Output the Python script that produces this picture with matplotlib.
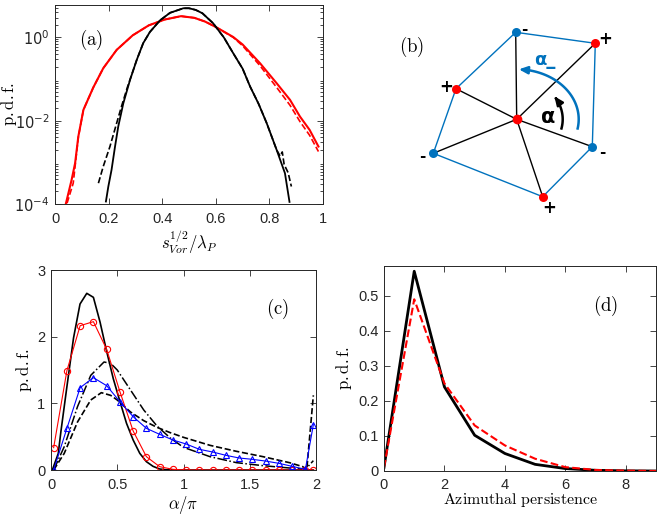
import numpy as np
import matplotlib
matplotlib.use("Agg")
import matplotlib.pyplot as plt

plt.rcParams['mathtext.fontset'] = 'cm'
plt.rcParams['font.family'] = ['Liberation Sans', 'DejaVu Sans']

AX_COL = '#262626'

# ---------------- panel (a) data: x and log10(p.d.f.)
a_red_x = [0.041, 0.062, 0.075, 0.087, 0.106, 0.143, 0.18, 0.23, 0.29, 0.35, 0.41, 0.47,
           0.52, 0.56, 0.60, 0.665, 0.70, 0.765, 0.827, 0.877, 0.914, 0.95, 0.983]
a_red_logy = [-3.98, -3.42, -3.02, -2.38, -1.74, -1.20, -0.74, -0.30, 0.05, 0.29, 0.43, 0.51,
              0.47, 0.38, 0.25, 0.01, -0.17, -0.62, -1.10, -1.50, -1.90, -2.22, -2.62]
a_red2_x = [0.045, 0.068, 0.087, 0.106, 0.143, 0.18, 0.23, 0.29, 0.35, 0.41, 0.47,
            0.52, 0.56, 0.60, 0.665, 0.70, 0.765, 0.827, 0.877, 0.914, 0.95, 0.983]
a_red2_logy = [-3.98, -3.50, -2.40, -1.74, -1.20, -0.74, -0.30, 0.05, 0.29, 0.43, 0.51,
               0.47, 0.38, 0.25, 0.00, -0.20, -0.68, -1.20, -1.63, -2.02, -2.35, -2.74]
a_blk_x = [0.190, 0.199, 0.211, 0.224, 0.236, 0.255, 0.28, 0.305, 0.329, 0.354, 0.392, 0.429,
           0.479, 0.50, 0.525, 0.55, 0.59, 0.63, 0.665, 0.70, 0.728, 0.76, 0.79, 0.827, 0.858,
           0.875]
a_blk_logy = [-3.94, -3.58, -3.18, -2.62, -2.14, -1.58, -1.02, -0.54, -0.14, 0.13, 0.41, 0.59,
              0.70, 0.70, 0.66, 0.58, 0.34, 0.0, -0.38, -0.75, -1.18, -1.60, -2.06, -2.70,
              -3.26, -3.95]
a_blkd_x = [0.162, 0.18, 0.205, 0.23, 0.248, 0.27, 0.305, 0.329, 0.354, 0.392, 0.429, 0.479,
            0.50, 0.525, 0.55, 0.59, 0.63, 0.665, 0.70, 0.728, 0.76, 0.79, 0.827, 0.84, 0.848,
            0.855, 0.87, 0.882]
a_blkd_logy = [-3.50, -3.10, -2.62, -2.06, -1.66, -1.20, -0.54, -0.14, 0.13, 0.41, 0.59, 0.70,
               0.70, 0.66, 0.58, 0.34, 0.0, -0.38, -0.75, -1.18, -1.60, -2.06, -2.70, -2.85,
               -2.75, -3.05, -3.25, -3.58]

# ---------------- panel (c) data
c_mark_x = [0.02, 0.12, 0.22, 0.32, 0.42, 0.52, 0.62, 0.72, 0.82, 0.92, 1.02, 1.12, 1.22,
            1.32, 1.42, 1.52, 1.62, 1.72, 1.82, 1.92, 1.98]
c_red = [0.335, 1.49, 2.165, 2.225, 1.81, 1.175, 0.585, 0.20, 0.05, 0.01, 0, 0, 0, 0, 0, 0,
         0, 0, 0, 0, 0]
c_blue = [0.0, 0.625, 1.235, 1.385, 1.265, 1.025, 0.80, 0.625, 0.535, 0.45, 0.39, 0.31, 0.27,
          0.22, 0.18, 0.16, 0.134, 0.10, 0.055, 0.01, 0.68]
c_solid_x = [0.01, 0.055, 0.075, 0.118, 0.17, 0.219, 0.27, 0.32, 0.37, 0.42, 0.47, 0.52, 0.57,
             0.62, 0.67, 0.72, 0.77, 0.82, 0.87, 1.0, 1.98]
c_solid_y = [0.0, 0.25, 0.58, 1.22, 1.98, 2.49, 2.65, 2.59, 2.22, 1.78, 1.37, 1.03, 0.70,
             0.45, 0.25, 0.125, 0.055, 0.015, 0.003, 0.0, 0.0]
c_dd_x = [0.02, 0.10, 0.20, 0.30, 0.40, 0.45, 0.50, 0.60, 0.70, 0.80, 0.90, 1.0, 1.2, 1.4,
          1.6, 1.8, 1.92, 1.98]
c_dd_y = [0.0, 0.35, 0.95, 1.42, 1.62, 1.60, 1.50, 1.20, 0.90, 0.66, 0.48, 0.34, 0.20, 0.11,
          0.065, 0.03, 0.01, 0.14]
c_dash_x = [0.02, 0.10, 0.20, 0.30, 0.38, 0.45, 0.50, 0.60, 0.70, 0.80, 0.90, 1.0, 1.2, 1.4,
            1.6, 1.8, 1.9, 1.93, 1.98]
c_dash_y = [0.0, 0.25, 0.72, 1.05, 1.16, 1.12, 1.05, 0.87, 0.74, 0.64, 0.56, 0.49, 0.37, 0.28,
            0.20, 0.11, 0.05, 0.0, 1.12]

# ---------------- panel (d) data
d_x = [0, 1, 2, 3, 4, 5, 6, 7, 8, 9]
d_black = [0.01, 0.57, 0.24, 0.102, 0.05, 0.019, 0.007, 0.002, 0.0005, 0.0]
d_red = [0.01, 0.49, 0.25, 0.13, 0.073, 0.035, 0.011, 0.003, 0.001, 0.0]

# ---------------- panel (b) diagram (figure pixel coordinates, y down)
b_center = (516.7, 119.3)
b_nodes_x = [515.7, 595.3, 592.3, 542.7, 433.3, 456.0]
b_nodes_y = [32.3, 43.3, 146.7, 196.7, 153.3, 88.7]
b_nodes_sign = ['-', '+', '-', '+', '-', '+']
b_sign_dx = [9, 10, 10, 6, -11, -10]
b_sign_dy = [-3, -4, 6, 11, 3, -2]

W, H = 664, 516
fig = plt.figure(figsize=(W / 100, H / 100), dpi=100)


def style(ax, xpad=6):
    ax.tick_params(which='both', direction='in', top=True, right=True,
                   colors=AX_COL, labelsize=10.5, width=0.6)
    ax.tick_params(which='major', length=4)
    ax.tick_params(which='minor', length=2)
    ax.tick_params(axis='x', which='major', pad=xpad)
    ax.tick_params(axis='y', which='major', pad=4)
    for s in ax.spines.values():
        s.set_color(AX_COL)
        s.set_linewidth(0.7)


def rect(l, t, r, b):
    return [l / W, 1 - b / H, (r - l) / W, (b - t) / H]


# ---- (a)
axa = fig.add_axes(rect(55, 5, 323, 204))
axa.plot(a_red_x, 10 ** np.array(a_red_logy), color='red', lw=1.5)
axa.plot(a_red2_x, 10 ** np.array(a_red2_logy), color='red', lw=1.2, ls='--')
axa.plot(a_blkd_x, 10 ** np.array(a_blkd_logy), color='black', lw=1.2, ls='--')
axa.plot(a_blk_x, 10 ** np.array(a_blk_logy), color='black', lw=1.3)
axa.set_yscale('log')
axa.set_xlim(0, 1)
axa.set_ylim(1e-4, 6)
axa.set_xticks([0, 0.2, 0.4, 0.6, 0.8, 1])
axa.set_xticklabels(['0', '0.2', '0.4', '0.6', '0.8', '1'])
axa.set_yticks([1e-4, 1e-2, 1e0])
axa.set_yticklabels([r'$10^{-4}$', r'$10^{-2}$', r'$10^{0}$'])
for t in axa.get_yticklabels():
    t.set_math_fontfamily('dejavusans')
axa.yaxis.set_minor_locator(matplotlib.ticker.LogLocator(base=10, subs=np.arange(2, 10), numticks=20))
axa.yaxis.set_minor_formatter(matplotlib.ticker.NullFormatter())
style(axa)
axa.set_xlabel(r'$s_{Vor}^{1/2}/\lambda_P$', fontsize=12, labelpad=1)
axa.set_ylabel(r'$\mathrm{p.d.f.}$', fontsize=12)
axa.yaxis.set_label_coords((19 - 55) / 268, 0.5)
axa.text(0.09, 0.80, r'$\mathrm{(a)}$', transform=axa.transAxes, fontsize=13.5)

# ---- (c)
axc = fig.add_axes(rect(51, 270, 316, 470))
axc.plot(c_solid_x, c_solid_y, color='black', lw=1.2)
axc.plot(c_dd_x, c_dd_y, color='black', lw=1.1, ls='-.')
axc.plot(c_dash_x, c_dash_y, color='black', lw=1.2, ls='--')
axc.plot(c_mark_x, c_red, color='red', lw=0.8, marker='o', ms=4.5, mfc='none', mew=0.8)
axc.plot(c_mark_x, c_blue, color='blue', lw=0.8, marker='^', ms=5, mfc='none', mew=0.8)
axc.set_xlim(0, 2)
axc.set_ylim(0, 3)
axc.set_xticks([0, 0.5, 1, 1.5, 2])
axc.set_xticklabels(['0', '0.5', '1', '1.5', '2'])
axc.set_yticks([0, 1, 2, 3])
style(axc)
axc.set_xlabel(r'$\alpha/\pi$', fontsize=12)
axc.xaxis.set_label_coords(0.5, (470 - 494) / 200)
axc.set_ylabel(r'$\mathrm{p.d.f.}$', fontsize=12)
axc.yaxis.set_label_coords((34 - 51) / 265, 0.5)
axc.text(0.81, 0.78, r'$\mathrm{(c)}$', transform=axc.transAxes, fontsize=13.5)

# ---- (d)
axd = fig.add_axes(rect(384, 266, 656, 471))
axd.plot(d_x, d_black, color='black', lw=2.0)
axd.plot(d_x, d_red, color='red', lw=1.5, ls='--')
axd.set_xlim(0, 9)
axd.set_ylim(0, 0.585)
axd.set_xticks([0, 2, 4, 6, 8])
axd.set_yticks([0, 0.1, 0.2, 0.3, 0.4, 0.5])
axd.set_yticklabels(['0', '0.1', '0.2', '0.3', '0.4', '0.5'])
style(axd, xpad=5)
axd.set_xlabel(r'$\mathrm{Azimuthal\ persistence}$', fontsize=11.5)
axd.xaxis.set_label_coords(0.5, (471 - 491) / 205)
axd.set_ylabel(r'$\mathrm{p.d.f.}$', fontsize=12)
axd.yaxis.set_label_coords((354 - 384) / 272, 0.5)
axd.text(0.77, 0.78, r'$\mathrm{(d)}$', transform=axd.transAxes, fontsize=13.5)

# ---- (b) diagram
axb = fig.add_axes([0, 0, 1, 1], zorder=5)
axb.set_xlim(0, W)
axb.set_ylim(H, 0)
axb.axis('off')
axb.patch.set_alpha(0)
BLUE = '#0072BD'
cx, cy = b_center
px = b_nodes_x + [b_nodes_x[0]]
py = b_nodes_y + [b_nodes_y[0]]
axb.plot(px, py, color=BLUE, lw=1.0)
for x, y in zip(b_nodes_x, b_nodes_y):
    axb.plot([cx, x], [cy, y], color='black', lw=1.0)
for x, y, s in zip(b_nodes_x, b_nodes_y, b_nodes_sign):
    axb.plot(x, y, 'o', color='red' if s == '+' else BLUE, ms=6.5, mec='none')
axb.plot(cx, cy, 'o', color='red', ms=7, mec='none')
for x, y, s, dx, dy in zip(b_nodes_x, b_nodes_y, b_nodes_sign, b_sign_dx, b_sign_dy):
    axb.text(x + dx, y + dy, s, fontsize=12 if s == '+' else 11, fontweight='bold',
             ha='center', va='center', family='DejaVu Sans')


def arc(rx, ry, a0, a1, color, lw):
    t = np.radians(np.linspace(a0, a1, 60))
    xs = cx + rx * np.cos(t)
    ys = cy - ry * np.sin(t)
    axb.plot(xs[:-3], ys[:-3], color=color, lw=lw, solid_capstyle='butt')
    axb.annotate('', xy=(xs[-1], ys[-1]), xytext=(xs[-6], ys[-6]),
                 arrowprops=dict(arrowstyle='-|>,head_length=0.5,head_width=0.22',
                                 color=color, lw=lw, shrinkA=0, shrinkB=0))


arc(46, 40, -15, 35, 'black', 1.8)
arc(62, 50, -12, 88, BLUE, 1.8)
axb.text(548.3, 116.7, 'α', fontsize=15, fontweight='bold', ha='center', va='center',
         family='DejaVu Sans')
axb.text(545, 60, 'α_', fontsize=13, fontweight='bold', ha='center', va='center',
         color=BLUE, family='DejaVu Sans')
axb.text(411.7, 46.7, r'$\mathrm{(b)}$', fontsize=13.5, ha='center', va='center')

fig.savefig('out.png', dpi=100)
